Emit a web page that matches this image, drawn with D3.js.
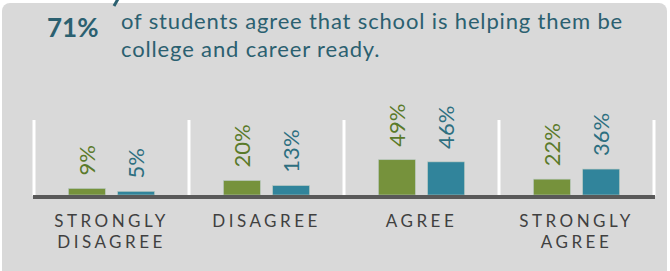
<!DOCTYPE html>
<html>
<head>
<meta charset="utf-8">
<script src="https://cdn.jsdelivr.net/npm/d3@7"></script>
<style>
  body { margin: 0; background: #fff; }
  svg text { font-family: Lato, "Open Sans", sans-serif; }
</style>
</head>
<body>
<svg id="chart" width="670" height="271"></svg>
<script>
// chart values
var categories = [["STRONGLY", "DISAGREE"], ["DISAGREE"], ["AGREE"], ["STRONGLY", "AGREE"]];
var series = ["a", "b"];
var valuesA = [9, 20, 49, 22];
var valuesB = [5, 13, 46, 36];
var headline = "71%";
var titleLines = ["of students agree that school is helping them be", "college and career ready."];

var colors = { a: "#76923c", b: "#31849b" };
var labelColors = { a: "#5a7a2a", b: "#2d6f80" };

var svg = d3.select("#chart");

// grey panel
svg.append("rect")
  .attr("x", 2).attr("y", 3)
  .attr("width", 665).attr("height", 300)
  .attr("rx", 8)
  .attr("fill", "#d9d9d9");

// little pointer at the top
svg.append("line")
  .attr("x1", 118).attr("y1", -1)
  .attr("x2", 114).attr("y2", 6)
  .attr("stroke", "#2b6070").attr("stroke-width", 3);

svg.append("text")
  .attr("x", 47).attr("y", 37)
  .attr("fill", "#2b6070")
  .attr("font-size", 26).attr("font-weight", "bold")
  .text(headline);

svg.append("g").selectAll("text")
  .data(titleLines)
  .enter().append("text")
  .attr("x", 121)
  .attr("y", function (d, i) { return 29 + i * 28; })
  .attr("fill", "#2b6070")
  .attr("font-size", 22)
  .attr("letter-spacing", 0.85)
  .text(function (d) { return d; });

var keys = categories.map(function (c) { return c.join(" "); });

var x = d3.scaleBand().domain(keys).range([34, 654]);
var bw = x.bandwidth();
var xs = d3.scaleBand().domain(series).range([bw / 2 - 43, bw / 2 + 43]).paddingInner(0.25);
var y = d3.scaleLinear().domain([0, 100]).range([195, 123]);

// white separators
var seps = keys.map(function (k) { return x(k); }).concat([x(keys[keys.length - 1]) + bw]);
svg.append("g").selectAll("line")
  .data(seps)
  .enter().append("line")
  .attr("x1", function (d) { return d; }).attr("x2", function (d) { return d; })
  .attr("y1", 120).attr("y2", 196)
  .attr("stroke", "#fff").attr("stroke-width", 3);

var rows = [];
keys.forEach(function (k, i) {
  rows.push({ cat: k, s: "a", v: valuesA[i] });
  rows.push({ cat: k, s: "b", v: valuesB[i] });
});

var g = svg.append("g");
g.selectAll("rect")
  .data(rows)
  .enter().append("rect")
  .attr("x", function (d) { return x(d.cat) + xs(d.s); })
  .attr("y", function (d) { return y(d.v); })
  .attr("width", xs.bandwidth())
  .attr("height", function (d) { return y(0) - y(d.v); })
  .attr("fill", function (d) { return colors[d.s]; })
  .attr("stroke", "#b8c8c0").attr("stroke-width", 0.6);

g.selectAll("text")
  .data(rows)
  .enter().append("text")
  .attr("transform", function (d) {
    var cx = x(d.cat) + xs(d.s) + xs.bandwidth() / 2 + 8;
    return "translate(" + cx + "," + (y(d.v) - 13) + ") rotate(-90)";
  })
  .attr("fill", function (d) { return labelColors[d.s]; })
  .attr("font-size", 22)
  .text(function (d) { return d.v + "%"; });

// axis line
svg.append("line")
  .attr("x1", 33).attr("x2", 655)
  .attr("y1", 197).attr("y2", 197)
  .attr("stroke", "#595959").attr("stroke-width", 4);

// category labels
var cl = svg.append("g").selectAll("text")
  .data(categories)
  .enter().append("text")
  .attr("x", function (d, i) { return x(keys[i]) + bw / 2; })
  .attr("y", 227)
  .attr("text-anchor", "middle")
  .attr("fill", "#404040")
  .attr("font-size", 17)
  .attr("letter-spacing", 3.5);
cl.selectAll("tspan")
  .data(function (d) { return d; })
  .enter().append("tspan")
  .attr("x", function () { return d3.select(this.parentNode).attr("x"); })
  .attr("dy", function (d, i) { return i ? 21 : 0; })
  .text(function (d) { return d; });
</script>
</body>
</html>
